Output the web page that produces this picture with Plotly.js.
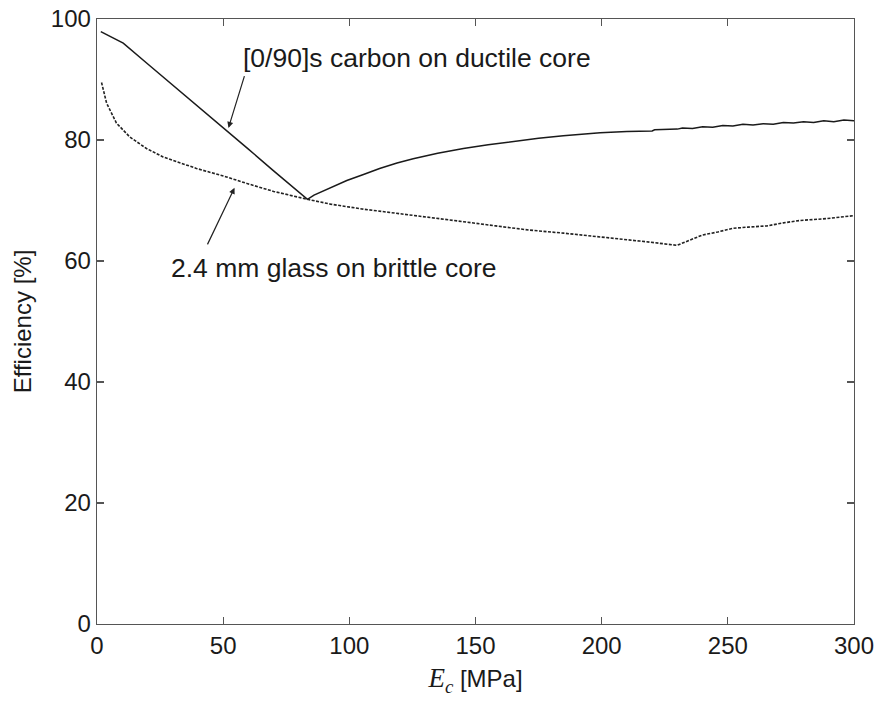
<!DOCTYPE html>
<html>
<head>
<meta charset="utf-8">
<script src="https://cdn.plot.ly/plotly-3.0.1.min.js"></script>
<style>html,body{margin:0;padding:0;background:#fff;}#chart{width:880px;height:702px;}</style>
</head>
<body>
<div id="chart"></div>
<script>
// [0/90]s carbon on ductile core (solid)
var carbonX = [1.5, 5, 10.4, 20, 30, 40, 50, 60, 70, 83.4, 86, 92.5, 99, 105.6, 112, 118.9, 125.3, 135, 145.2, 155, 165, 175, 184.8, 192, 199.4, 210, 220, 221, 230, 232, 236, 240, 244, 248, 252, 256, 260, 264, 268, 272, 276, 280, 284, 288, 292, 296, 300];
var carbonY = [97.9, 97.1, 96.0, 92.6, 89.1, 85.5, 82.0, 78.5, 74.9, 70.2, 70.9, 72.1, 73.3, 74.3, 75.3, 76.2, 76.9, 77.8, 78.6, 79.2, 79.8, 80.3, 80.7, 81.0, 81.2, 81.4, 81.5, 81.7, 81.8, 82.0, 81.9, 82.2, 82.1, 82.4, 82.3, 82.6, 82.5, 82.7, 82.6, 82.9, 82.8, 83.0, 82.9, 83.2, 83.0, 83.3, 83.2];

// 2.4 mm glass on brittle core (dotted)
var glassX = [1.8, 3.8, 7.7, 13, 19.6, 26.2, 39.4, 51.3, 59.5, 70, 83.4, 92.5, 105, 118.9, 132, 145.2, 158, 171.6, 185, 199.4, 215, 229.9, 235, 240, 246, 252, 258, 265.5, 272, 278.6, 289, 300];
var glassY = [89.5, 86.1, 82.8, 80.5, 78.6, 77.2, 75.3, 73.9, 72.8, 71.5, 70.2, 69.4, 68.6, 67.9, 67.2, 66.5, 65.8, 65.1, 64.6, 64.0, 63.3, 62.6, 63.5, 64.3, 64.8, 65.4, 65.6, 65.8, 66.3, 66.7, 67.0, 67.5];

var xTicks = [0, 50, 100, 150, 200, 250, 300];
var yTicks = [0, 20, 40, 60, 80, 100];

var carbonLabel = "[0/90]s carbon on ductile core";
var glassLabel = "2.4 mm glass on brittle core";

var traces = [
  {x: carbonX, y: carbonY, mode: 'lines', line: {color: '#1a1a1a', width: 1.5}, showlegend: false, hoverinfo: 'skip'},
  {x: glassX, y: glassY, mode: 'lines', line: {color: '#222', width: 1.6, dash: '3px,1.5px'}, showlegend: false, hoverinfo: 'skip'}
];

var axisCommon = {
  showline: true, mirror: 'ticks', linecolor: '#555', linewidth: 1.3,
  ticks: 'inside', ticklen: 7, tickcolor: '#555', tickwidth: 1.3,
  showgrid: false, zeroline: false,
  tickfont: {family: 'Liberation Sans, Arial, sans-serif', size: 24, color: '#1a1a1a'}
};

var layout = {
  width: 880, height: 702,
  margin: {l: 97, r: 26, t: 19, b: 78},
  paper_bgcolor: '#fff', plot_bgcolor: '#fff',
  xaxis: Object.assign({}, axisCommon, {
    range: [0, 300], tickvals: xTicks, ticktext: xTicks.map(String),
    title: {text: '<span style="font-family:Liberation Serif;font-size:27px"><i>E<sub>c</sub></i></span> [MPa]',
            font: {family: 'Liberation Sans, Arial, sans-serif', size: 24, color: '#1a1a1a'}, standoff: 12}
  }),
  yaxis: Object.assign({}, axisCommon, {
    range: [0, 100], tickvals: yTicks, ticktext: yTicks.map(String),
    title: {text: 'Efficiency [%]', font: {family: 'Liberation Sans, Arial, sans-serif', size: 24, color: '#1a1a1a'}, standoff: 12}
  }),
  annotations: [
    {x: 57.2, y: 93.5, xref: 'x', yref: 'y', text: carbonLabel, showarrow: false, xanchor: 'left', yanchor: 'middle',
     font: {family: 'Liberation Sans, Arial, sans-serif', size: 26.5, color: '#1a1a1a'}},
    {x: 28.6, y: 58.8, xref: 'x', yref: 'y', text: glassLabel, showarrow: false, xanchor: 'left', yanchor: 'middle',
     font: {family: 'Liberation Sans, Arial, sans-serif', size: 26.5, color: '#1a1a1a'}},
    {x: 52.1, y: 82.0, ax: 58.6, ay: 90.8, xref: 'x', yref: 'y', axref: 'x', ayref: 'y', text: '', showarrow: true,
     arrowhead: 2, arrowsize: 1, arrowwidth: 1.2, arrowcolor: '#222'},
    {x: 54.5, y: 72.1, ax: 43.5, ay: 62.5, xref: 'x', yref: 'y', axref: 'x', ayref: 'y', text: '', showarrow: true,
     arrowhead: 2, arrowsize: 1, arrowwidth: 1.2, arrowcolor: '#222'}
  ]
};

Plotly.newPlot('chart', traces, layout, {staticPlot: true, displayModeBar: false});
</script>
</body>
</html>
